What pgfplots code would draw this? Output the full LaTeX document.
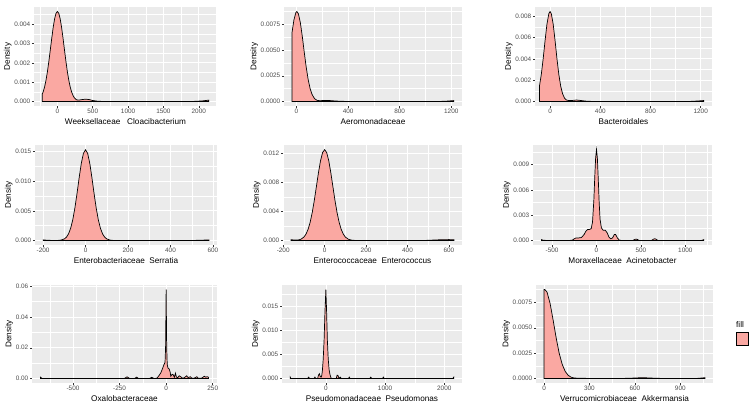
\documentclass[border=0pt]{standalone}
\usepackage{fontspec}
\setmainfont{Liberation Sans}
\usepackage{pgfplots}
\pgfplotsset{compat=1.18}
\definecolor{ggbg}{HTML}{EBEBEB}
\definecolor{gray30}{HTML}{4D4D4D}
\definecolor{gray20}{HTML}{333333}
\definecolor{fillc}{RGB}{250,168,162}
\pgfplotsset{
  ggpanel/.style={
    scale only axis, anchor=south west,
    axis background/.style={fill=ggbg},
    axis line style={draw=none},
    grid=both,
    major grid style={white, line width=0.75pt},
    minor grid style={white, line width=0.35pt},
    tick align=outside, major tick length=2pt, minor tick length=0pt,
    tick style={gray20, line width=0.5pt},
    xtick pos=bottom, ytick pos=left,
    scaled x ticks=false, scaled y ticks=false,
    tick label style={font=\fontsize{6.4}{7}\selectfont, text=gray30},
    xticklabel style={inner sep=1pt},
    yticklabel style={inner sep=1.5pt},
    label style={font=\fontsize{8.2}{9.5}\selectfont, text=black},
    xlabel style={inner sep=1pt, yshift=-2.5pt},
    ylabel style={inner sep=1pt},
    ylabel=Density,
    clip mode=individual,
  },
  dens/.style={fill=fillc, draw=black, line width=0.7pt},
}
\begin{document}
\begin{tikzpicture}
% ---------- Row 1 ----------
\begin{axis}[ggpanel, at={(34pt,301pt)}, width=183pt, height=99pt,
  xmin=-331, xmax=2258, ymin=-0.000233, ymax=0.00489,
  xtick={0,500,1000,1500,2000}, xticklabels={0,500,1000,1500,2000},
  minor xtick={-250,250,750,1250,1750,2250},
  ytick={0,0.001,0.002,0.003,0.004}, yticklabels={0.000,0.001,0.002,0.003,0.004},
  minor ytick={0.0005,0.0015,0.0025,0.0035,0.0045},
  xlabel={Weeksellaceae\ \ \ Cloacibacterium}]
\addplot[dens] coordinates {
(-213,0.00040)(-200,0.00051)(-180,0.00077)(-160,0.00113)(-140,0.00157)(-120,0.00210)(-100,0.00268)(-80,0.00327)(-60,0.00382)(-40,0.00427)(-20,0.00456)(0,0.00466)(20,0.00456)(40,0.00427)(60,0.00382)(80,0.00327)(100,0.00268)(120,0.00210)(140,0.00157)(160,0.00113)(180,0.00077)(200,0.00051)(220,0.00032)(240,0.00019)(270,0.00009)(300,0.00007)(350,0.0001)(400,0.00012)(450,0.0001)(500,0.00005)(560,0.00002)(650,0.0)(1900,0.0)(2050,0.00003)(2140,0.00007)
} \closedcycle;
\end{axis}

\begin{axis}[ggpanel, at={(284pt,301pt)}, width=178pt, height=99pt,
  xmin=-97, xmax=1283, ymin=-0.000437, ymax=0.00918,
  xtick={0,400,800,1200}, xticklabels={0,400,800,1200},
  minor xtick={200,600,1000},
  ytick={0,0.0025,0.005,0.0075}, yticklabels={0.0000,0.0025,0.0050,0.0075},
  minor ytick={0.00125,0.00375,0.00625,0.00875},
  xlabel={Aeromonadaceae}]
\addplot[dens] coordinates {
(-35,0.00669)(-20,0.00793)(-5,0.00864)(3,0.00874)(15,0.00851)(30,0.00764)(45,0.00631)(60,0.00479)(75,0.00335)(90,0.00216)(105,0.00128)(120,0.00070)(140,0.00027)(160,0.00011)(180,0.00008)(220,0.0001)(260,0.00009)(300,0.00005)(350,0.00002)(420,0.0)(1100,0.0)(1170,0.00004)(1220,0.00009)
} \closedcycle;
\end{axis}

\begin{axis}[ggpanel, at={(535pt,301pt)}, width=177pt, height=99pt,
  xmin=-120, xmax=1290, ymin=-0.000422, ymax=0.00886,
  xtick={0,400,800,1200}, xticklabels={0,400,800,1200},
  minor xtick={200,600,1000},
  ytick={0,0.002,0.004,0.006,0.008}, yticklabels={0.000,0.002,0.004,0.006,0.008},
  minor ytick={0.001,0.003,0.005,0.007},
  xlabel={Bacteroidales}]
\addplot[dens] coordinates {
(-85,0.00142)(-70,0.00252)(-55,0.00400)(-40,0.00569)(-25,0.00724)(-10,0.00823)(0,0.00844)(10,0.00823)(25,0.00724)(40,0.00569)(55,0.00400)(70,0.00252)(85,0.00142)(100,0.00072)(115,0.00032)(130,0.00014)(150,0.00009)(180,0.0001)(210,0.00014)(240,0.0001)(280,0.00004)(330,0.00001)(400,0.0)(1100,0.0)(1180,0.00005)(1225,0.00009)
} \closedcycle;
\end{axis}

% ---------- Row 2 ----------
\begin{axis}[ggpanel, at={(35pt,162pt)}, width=182pt, height=100pt,
  xmin=-238, xmax=619, ymin=-0.000765, ymax=0.0161,
  xtick={-200,0,200,400,600}, xticklabels={-200,0,200,400,600},
  minor xtick={-100,100,300,500},
  ytick={0,0.005,0.010,0.015}, yticklabels={0.000,0.005,0.010,0.015},
  minor ytick={0.0025,0.0075,0.0125},
  xlabel={Enterobacteriaceae\ \ Serratia}]
\addplot[dens] coordinates {
(-199,0.0001)(-185,0.00005)(-160,0.00001)(-130,0.00001)(-115,0.00007)(-100,0.00026)(-90,0.00056)(-80,0.00112)(-70,0.00207)(-60,0.00352)(-50,0.00552)(-40,0.00796)(-30,0.01060)(-20,0.01300)(-10,0.01469)(0,0.0153)(10,0.01469)(20,0.01300)(30,0.01060)(40,0.00796)(50,0.00552)(60,0.00352)(70,0.00207)(80,0.00112)(90,0.00056)(100,0.00026)(115,0.00007)(130,0.00001)(500,0.0)(550,0.00005)(582,0.0001)
} \closedcycle;
\end{axis}

\begin{axis}[ggpanel, at={(283pt,162pt)}, width=179pt, height=100pt,
  xmin=-201, xmax=663, ymin=-0.000628, ymax=0.0132,
  xtick={-200,0,200,400,600}, xticklabels={-200,0,200,400,600},
  minor xtick={-100,100,300,500},
  ytick={0,0.004,0.008,0.012}, yticklabels={0.000,0.004,0.008,0.012},
  minor ytick={0.002,0.006,0.010},
  xlabel={Enterococcaceae\ \ Enterococcus}]
\addplot[dens] coordinates {
(-162,0.0001)(-145,0.00006)(-130,0.00005)(-115,0.00016)(-100,0.00047)(-90,0.00088)(-80,0.00153)(-70,0.00251)(-60,0.00385)(-50,0.00552)(-40,0.00742)(-30,0.00934)(-20,0.01101)(-10,0.01215)(0,0.01256)(10,0.01215)(20,0.01101)(30,0.00934)(40,0.00742)(50,0.00552)(60,0.00385)(70,0.00251)(80,0.00153)(90,0.00088)(100,0.00047)(115,0.00016)(130,0.00005)(150,0.0)(480,0.0)(520,0.00005)(560,0.0001)(600,0.00012)(624,0.0001)
} \closedcycle;
\end{axis}

\begin{axis}[ggpanel, at={(533pt,162pt)}, width=179pt, height=100pt,
  xmin=-715, xmax=1300, ymin=-0.00054, ymax=0.01133,
  xtick={-500,0,500,1000}, xticklabels={-500,0,500,1000},
  minor xtick={-250,250,750,1250},
  ytick={0,0.003,0.006,0.009}, yticklabels={0.000,0.003,0.006,0.009},
  minor ytick={0.0015,0.0045,0.0075,0.0105},
  xlabel={Moraxellaceae\ \ Acinetobacter}]
\addplot[dens] coordinates {
(-621,0.0001)(-600,0.00003)(-560,0.0)(-300,0.0)(-270,0.00005)(-250,0.0002)(-230,0.0003)(-200,0.0003)(-170,0.00035)(-140,0.0007)(-120,0.0011)(-100,0.0013)(-80,0.0013)(-60,0.0014)(-45,0.0022)(-30,0.0048)(-20,0.0075)(-10,0.0098)(0,0.0108)(10,0.0097)(20,0.0072)(30,0.0045)(40,0.0025)(55,0.0015)(75,0.0012)(100,0.0012)(120,0.0009)(140,0.0004)(160,0.0002)(180,0.0003)(200,0.0007)(215,0.0007)(235,0.0003)(255,0.00005)(280,0.0)(410,0.0)(430,0.00012)(445,0.00016)(460,0.00012)(480,0.0)(620,0.0)(640,0.00015)(655,0.0002)(670,0.00015)(690,0.0)(1180,0.0)(1208,0.0001)
} \closedcycle;
\end{axis}

% ---------- Row 3 ----------
\begin{axis}[ggpanel, at={(32pt,24pt)}, width=185pt, height=98pt,
  xmin=-720, xmax=273, ymin=-0.0029, ymax=0.0608,
  xtick={-500,-250,0,250}, xticklabels={-500,-250,0,250},
  minor xtick={-625,-375,-125,125},
  ytick={0,0.02,0.04,0.06}, yticklabels={0.00,0.02,0.04,0.06},
  minor ytick={0.01,0.03,0.05},
  xlabel={Oxalobacteraceae}]
\addplot[dens] coordinates {
(-675,0.0009)(-665,0.0)(-225,0.0)(-210,0.0011)(-195,0.0)(-170,0.0)(-158,0.0009)(-148,0.0)(-90,0.0)(-77,0.0008)(-65,0.0)(-50,0.0002)(-41,0.0015)(-29,0.0036)(-18,0.0069)(-12,0.0090)(-6,0.0105)(-3,0.02)(0,0.0579)(3,0.02)(6,0.009)(10,0.0068)(16,0.0063)(21,0.0045)(25,0.0015)(32,0.0028)(38,0.0025)(44,0.0008)(50,0.0035)(55,0.001)(62,0.0005)(70,0.0018)(78,0.0012)(86,0.0004)(95,0.0003)(110,0.0018)(118,0.0006)(130,0.0012)(138,0.0003)(150,0.0002)(165,0.0012)(172,0.0002)(190,0.0002)(205,0.0015)(212,0.0009)(220,0.0012)(228,0.0008)
} \closedcycle;
\end{axis}

\begin{axis}[ggpanel, at={(282pt,24pt)}, width=180pt, height=98pt,
  xmin=-741, xmax=2299, ymin=-0.00092, ymax=0.01935,
  xtick={0,1000,2000}, xticklabels={0,1000,2000},
  minor xtick={-500,500,1500},
  ytick={0,0.005,0.010,0.015}, yticklabels={0.000,0.005,0.010,0.015},
  minor ytick={0.0025,0.0075,0.0125,0.0175},
  xlabel={Pseudomonadaceae\ \ Pseudomonas}]
\addplot[dens] coordinates {
(-603,0.0003)(-590,0.0)(-310,0.0)(-290,0.0003)(-275,0.0)(-200,0.0)(-185,0.0003)(-170,0.0)(-140,0.0)(-125,0.0007)(-110,0.0010)(-95,0.0004)(-80,0.0003)(-70,0.0006)(-60,0.0015)(-45,0.004)(-30,0.008)(-15,0.014)(0,0.01843)(12,0.014)(25,0.008)(40,0.004)(55,0.0018)(70,0.0008)(85,0.0002)(95,0.0)(175,0.0)(190,0.0007)(205,0.0006)(220,0.0001)(245,0.0003)(260,0.0)(380,0.0)(395,0.0003)(410,0.0)(740,0.0)(758,0.0003)(775,0.0)(955,0.0)(970,0.0003)(985,0.0)(2140,0.0)(2161,0.0003)
} \closedcycle;
\end{axis}

\begin{axis}[ggpanel, at={(536pt,24pt)}, width=177pt, height=98pt,
  xmin=-53, xmax=1116, ymin=-0.00044, ymax=0.00921,
  xtick={0,300,600,900}, xticklabels={0,300,600,900},
  minor xtick={150,450,750,1050},
  ytick={0,0.0025,0.005,0.0075}, yticklabels={0.0000,0.0025,0.0050,0.0075},
  minor ytick={0.00125,0.00375,0.00625,0.00875},
  xlabel={Verrucomicrobiaceae\ \ Akkermansia},
  legend style={at={(rel axis cs:1.13,0.52)}, anchor=north west, draw=none, fill=none, inner sep=0pt, nodes={inner sep=0pt}},
  legend image code/.code={\draw[#1] (0pt,-6.5pt) rectangle (12pt,6.5pt);}]
\addplot[dens] coordinates {
(0,0.00876)(5,0.00877)(20,0.0085)(40,0.0074)(60,0.00576)(80,0.00402)(100,0.0025)(120,0.0014)(140,0.0007)(160,0.00031)(180,0.000125)(200,0.00005)(250,0.00002)(500,0.0)(600,0.00005)(650,0.00009)(700,0.00005)(800,0.0)(1000,0.0)(1063,0.00008)
} \closedcycle;
\addlegendentry{\phantom{x}}
\end{axis}
\node[anchor=base west, font=\fontsize{8.2}{9.5}\selectfont, inner sep=0pt] at (736pt,79pt) {fill};
\pgfresetboundingbox
\path[use as bounding box] (0,0) rectangle (752pt,407pt);
\end{tikzpicture}
\end{document}
